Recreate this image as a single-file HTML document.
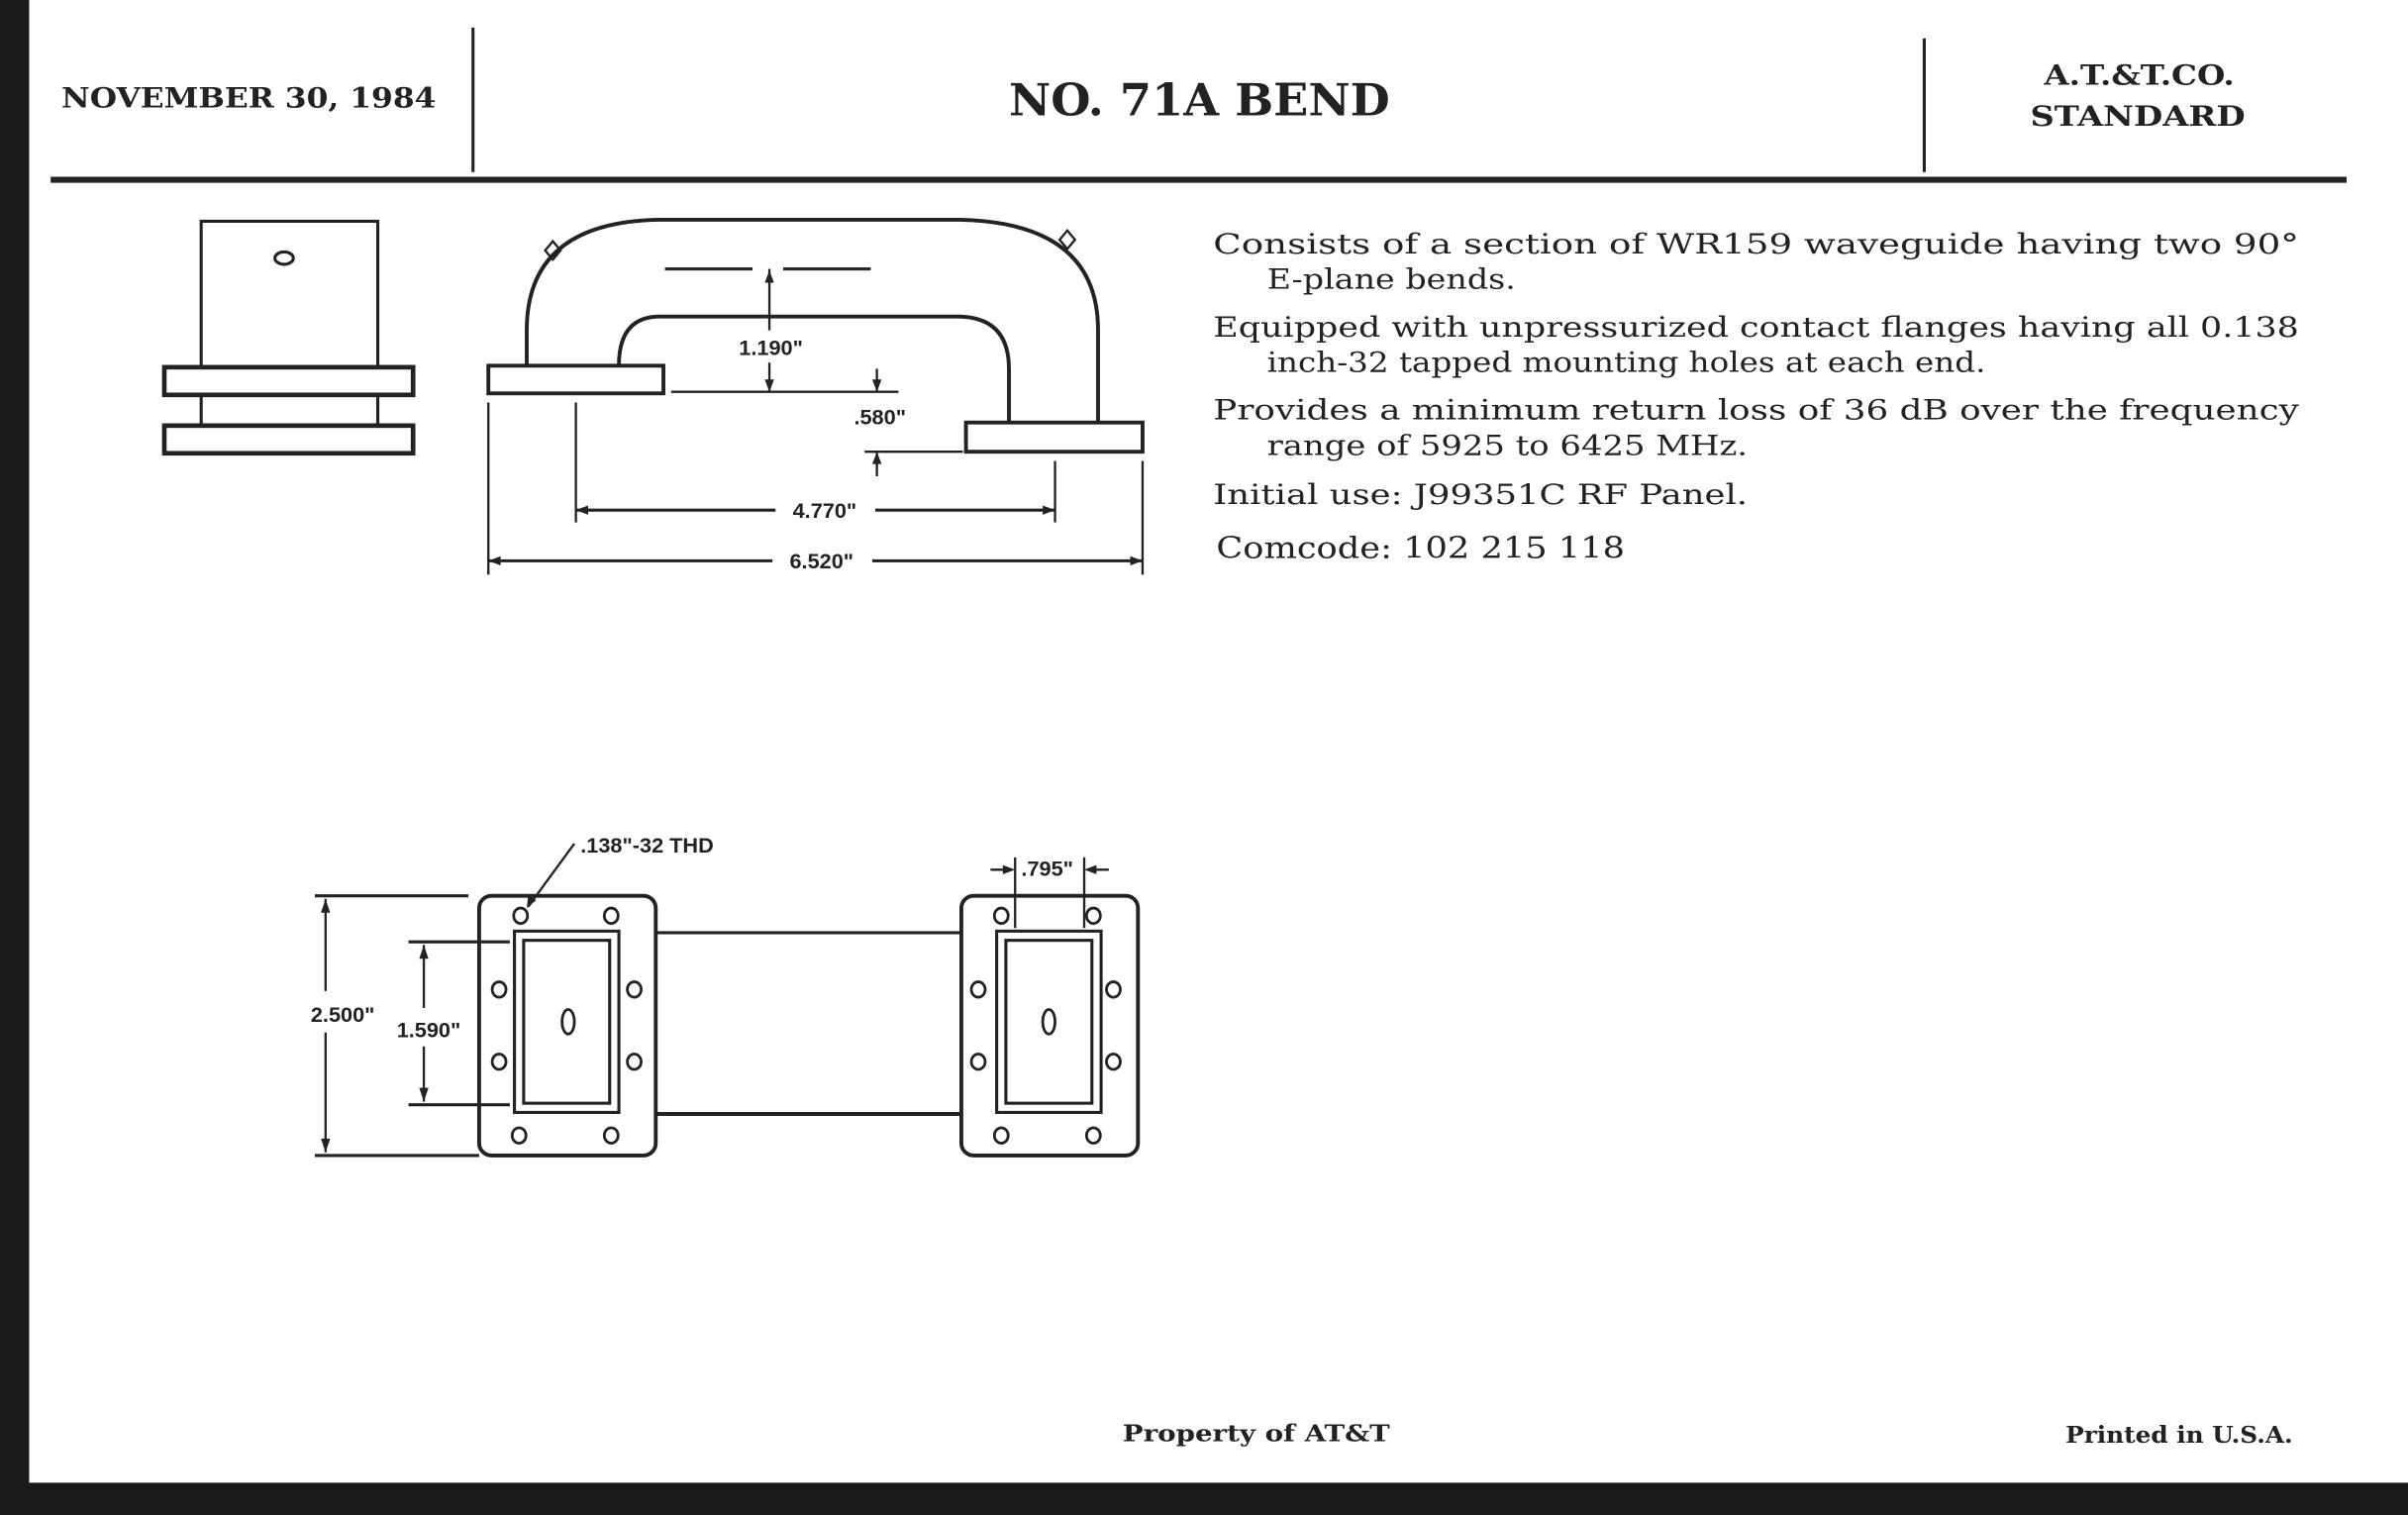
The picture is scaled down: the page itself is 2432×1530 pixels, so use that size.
<!DOCTYPE html>
<html><head><meta charset="utf-8"><style>
html,body{margin:0;padding:0;background:#fff}
svg{display:block}
.s{font-family:"DejaVu Serif","Liberation Serif",serif;fill:#222}
.d{font-family:"Liberation Sans",sans-serif;font-size:14px;fill:#222;font-weight:bold}
</style></head><body>
<svg width="2432" height="1530" viewBox="0 0 1568 986" preserveAspectRatio="none" xmlns="http://www.w3.org/2000/svg">
<rect x="0" y="0" width="1568" height="986" fill="#fff"/>
<rect x="0" y="0" width="19" height="986" fill="#1a1a1a"/>
<rect x="0" y="965" width="1568" height="21" fill="#1a1a1a"/>
<g stroke="#222" fill="none">
<line x1="308" y1="18" x2="308" y2="112" stroke-width="2"/>
<line x1="1253" y1="25" x2="1253" y2="112" stroke-width="2"/>
<line x1="33" y1="117" x2="1528" y2="117" stroke-width="4"/>
</g>
<g class="s" font-weight="bold">
<text x="40" y="70" font-size="18" textLength="244" lengthAdjust="spacingAndGlyphs">NOVEMBER 30, 1984</text>
<text x="657" y="75" font-size="29" textLength="248" lengthAdjust="spacingAndGlyphs">NO. 71A BEND</text>
<text x="1331" y="55" font-size="18" textLength="124" lengthAdjust="spacingAndGlyphs">A.T.&amp;T.CO.</text>
<text x="1322" y="82" font-size="18" textLength="140" lengthAdjust="spacingAndGlyphs">STANDARD</text>
<text x="731" y="938" font-size="15" textLength="174" lengthAdjust="spacingAndGlyphs">Property of AT&amp;T</text>
<text x="1345" y="939" font-size="15" textLength="148" lengthAdjust="spacingAndGlyphs">Printed in U.S.A.</text>
</g>

<g stroke="#222" fill="none" stroke-width="2">
<rect x="131" y="144" width="115" height="95"/>
<ellipse cx="185" cy="168" rx="6" ry="4"/>
<rect x="107" y="239" width="162" height="18" stroke-width="3"/>
<line x1="131" y1="257" x2="131" y2="277"/><line x1="246" y1="257" x2="246" y2="277"/>
<rect x="107" y="277" width="162" height="18" stroke-width="3"/>
<path d="M343 238 L343 215 Q343 145 428 143 L625 143 Q715 145 715 215 L715 275" stroke-width="2.5"/>
<path d="M403 238 Q403 207 428 206 L625 206 Q657 207 657 240 L657 275" stroke-width="2.5"/>
<rect x="318" y="238" width="114" height="18" stroke-width="2.5"/>
<rect x="629" y="275" width="115" height="19" stroke-width="2.5"/>
<path d="M360 157 l5 6 -5 6 -5 -6z M695 150 l5 6 -5 6 -5 -6z" stroke-width="1.5"/>
<line x1="433" y1="175" x2="490" y2="175"/><line x1="510" y1="175" x2="567" y2="175"/>
<line x1="501" y1="175" x2="501" y2="215" stroke-width="1.5"/>
<line x1="501" y1="236" x2="501" y2="255" stroke-width="1.5"/>
<line x1="437" y1="255" x2="585" y2="255" stroke-width="1.5"/>
<line x1="571" y1="240" x2="571" y2="255" stroke-width="1.5"/>
<line x1="563" y1="294" x2="627" y2="294" stroke-width="1.5"/>
<line x1="571" y1="294" x2="571" y2="310" stroke-width="1.5"/>
<line x1="375" y1="262" x2="375" y2="340" stroke-width="1.5"/>
<line x1="687" y1="300" x2="687" y2="340" stroke-width="1.5"/>
<line x1="318" y1="262" x2="318" y2="374" stroke-width="1.5"/>
<line x1="744" y1="300" x2="744" y2="374" stroke-width="1.5"/>
<line x1="375" y1="332" x2="505" y2="332"/><line x1="570" y1="332" x2="687" y2="332"/>
<line x1="318" y1="365" x2="503" y2="365"/><line x1="568" y1="365" x2="744" y2="365"/>
</g>
<g fill="#222">
<path d="M501 176 l-3 8 h6z M501 255 l-3 -8 h6z M571 255 l-3 -8 h6z M571 294 l-3 8 h6z M375 332 l8 -3 v6z M687 332 l-8 -3 v6z M318 365 l8 -3 v6z M744 365 l-8 -3 v6z"/>
</g>
<text class="d" x="502" y="231" text-anchor="middle" font-weight="normal">1.190"</text>
<text class="d" x="573" y="276" text-anchor="middle" font-weight="normal">.580"</text>
<text class="d" x="537" y="337" text-anchor="middle" font-weight="normal">4.770"</text>
<text class="d" x="535" y="370" text-anchor="middle" font-weight="normal">6.520"</text>

<g class="s" font-size="18">
<text x="790" y="165" textLength="707" lengthAdjust="spacingAndGlyphs">Consists of a section of WR159 waveguide having two 90°</text>
<text x="825" y="188" textLength="162" lengthAdjust="spacingAndGlyphs">E-plane bends.</text>
<text x="790" y="219" textLength="707" lengthAdjust="spacingAndGlyphs">Equipped with unpressurized contact flanges having all 0.138</text>
<text x="825" y="242" textLength="468" lengthAdjust="spacingAndGlyphs">inch-32 tapped mounting holes at each end.</text>
<text x="790" y="273" textLength="707" lengthAdjust="spacingAndGlyphs">Provides a minimum return loss of 36 dB over the frequency</text>
<text x="825" y="296" textLength="313" lengthAdjust="spacingAndGlyphs">range of 5925 to 6425 MHz.</text>
<text x="790" y="328" textLength="348" lengthAdjust="spacingAndGlyphs">Initial use: J99351C RF Panel.</text>
<text x="792" y="363" font-size="19" textLength="266" lengthAdjust="spacingAndGlyphs">Comcode:  102 215 118</text>
</g>

<g stroke="#222" fill="none" stroke-width="2">
<rect x="312" y="583" width="115" height="169" rx="8" stroke-width="2.5"/>
<rect x="626" y="583" width="115" height="169" rx="8" stroke-width="2.5"/>
<rect x="335" y="606" width="68" height="118"/><rect x="341" y="612" width="56" height="106"/>
<rect x="649" y="606" width="68" height="118"/><rect x="655" y="612" width="56" height="106"/>
<line x1="427" y1="607" x2="626" y2="607"/><line x1="427" y1="725" x2="626" y2="725" stroke-width="2.5"/>
<g stroke-width="1.8">
<ellipse cx="339" cy="596" rx="4.5" ry="5"/><ellipse cx="398" cy="596" rx="4.5" ry="5"/>
<ellipse cx="325" cy="644" rx="4.5" ry="5"/><ellipse cx="413" cy="644" rx="4.5" ry="5"/>
<ellipse cx="325" cy="691" rx="4.5" ry="5"/><ellipse cx="413" cy="691" rx="4.5" ry="5"/>
<ellipse cx="338" cy="739" rx="4.5" ry="5"/><ellipse cx="398" cy="739" rx="4.5" ry="5"/>
<ellipse cx="370" cy="665" rx="4" ry="8"/>
<ellipse cx="652" cy="596" rx="4.5" ry="5"/><ellipse cx="712" cy="596" rx="4.5" ry="5"/>
<ellipse cx="637" cy="644" rx="4.5" ry="5"/><ellipse cx="725" cy="644" rx="4.5" ry="5"/>
<ellipse cx="637" cy="691" rx="4.5" ry="5"/><ellipse cx="725" cy="691" rx="4.5" ry="5"/>
<ellipse cx="652" cy="739" rx="4.5" ry="5"/><ellipse cx="712" cy="739" rx="4.5" ry="5"/>
<ellipse cx="683" cy="665" rx="4" ry="8"/>
</g>
<line x1="205" y1="583" x2="305" y2="583"/><line x1="205" y1="752" x2="312" y2="752"/>
<line x1="212" y1="585" x2="212" y2="645" stroke-width="1.5"/>
<line x1="212" y1="672" x2="212" y2="750" stroke-width="1.5"/>
<line x1="266" y1="613" x2="332" y2="613"/><line x1="266" y1="719" x2="332" y2="719"/>
<line x1="276" y1="615" x2="276" y2="656" stroke-width="1.5"/>
<line x1="276" y1="681" x2="276" y2="717" stroke-width="1.5"/>
<line x1="374" y1="549" x2="344" y2="590" stroke-width="1.5"/>
<line x1="661" y1="558" x2="661" y2="604" stroke-width="1.5"/>
<line x1="706" y1="558" x2="706" y2="604" stroke-width="1.5"/>
<line x1="645" y1="566" x2="658" y2="566" stroke-width="1.5"/>
<line x1="709" y1="566" x2="722" y2="566" stroke-width="1.5"/>
</g>
<g fill="#222">
<path d="M212 585 l-3 9 h6z M212 750 l-3 -9 h6z M276 615 l-3 9 h6z M276 717 l-3 -9 h6z M343 591 l1 -9 5 4z M661 566 l-8 -3 v6z M706 566 l8 -3 v6z"/>
</g>
<text class="d" x="378" y="555" font-weight="normal">.138"-32 THD</text>
<text class="d" x="665" y="570" font-weight="normal">.795"</text>
<text class="d" x="244" y="665" text-anchor="end" font-weight="normal">2.500"</text>
<text class="d" x="300" y="675" text-anchor="end" font-weight="normal">1.590"</text>
</svg>
</body></html>
